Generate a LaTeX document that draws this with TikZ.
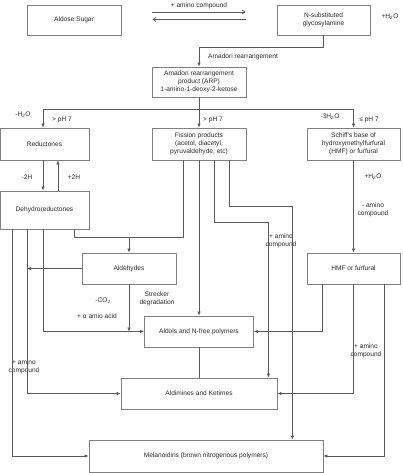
\documentclass[tikz,border=0pt]{standalone}
\usepackage{fontspec}
\setmainfont{Liberation Sans}
\usepackage{tikz}
\usetikzlibrary{arrows.meta}
\definecolor{lineGray}{HTML}{5A5A5A}
\definecolor{boxGray}{HTML}{808080}
\definecolor{textGray}{HTML}{2A2A2A}

\begin{document}
\begin{tikzpicture}[x=1pt,y=-1pt,
        box/.style={draw=boxGray,line width=0.8pt,inner sep=0pt,align=center,text=textGray,
            font=\fontsize{6.6}{8}\selectfont},
        lbl/.style={inner sep=0pt,align=center,text=textGray,font=\fontsize{6.6}{8}\selectfont},
        arr/.style={draw=lineGray,line width=0.7pt,-{Latex[length=4pt,width=3.6pt]}},
        wire/.style={draw=lineGray,line width=0.7pt},
        open/.style={draw=lineGray,line width=0.7pt,-{Straight Barb[length=3pt,width=4pt]}}]
        \useasboundingbox (0,0) rectangle (402,473);
        % boxes
        \node[box,minimum width=94pt,minimum height=30pt] (aldose) at (74,20) {Aldose Sugar};
        \node[box,minimum width=93pt,minimum height=30pt] (nsub) at (323.5,20) {N-substituted\\glycosylamine};
        \node[box,minimum width=94pt,minimum height=30pt] (arp) at (199,82) {Amadori rearrangement\\product (ARP)\\1-amino-1-deoxy-2-ketose};
        \node[box,minimum width=89pt,minimum height=32pt] (reduct) at (44.5,144) {Reductones};
        \node[box,minimum width=94pt,minimum height=32pt] (fission) at (199,144) {Fission products\\(acetol, diacetyl,\\pyruvaldehyde, etc)};
        \node[box,minimum width=93pt,minimum height=32pt] (schiff) at (353.5,144) {Schiff's base of\\hydroxymethylfurfural\\(HMF) or furfural};
        \node[box,minimum width=89pt,minimum height=38pt] (dehydro) at (44.5,210) {Dehydroreductones};
        \node[box,minimum width=94pt,minimum height=31pt] (aldehyd) at (129,268.5) {Aldehydes};
        \node[box,minimum width=93pt,minimum height=31pt] (hmf) at (353.5,268.5) {HMF or furfural};
        \node[box,minimum width=109pt,minimum height=31pt] (aldols) at (199,331.5) {Aldols and N-free polymers};
        \node[box,minimum width=156pt,minimum height=31pt] (aldim) at (199,393.5) {Aldimines and Ketimes};
        \node[box,minimum width=234pt,minimum height=32pt] (melan) at (206,456) {Melanoidins (brown nitrogenous polymers)};

        % labels
        \node[lbl] (water1) at (390,17) {+H\textsubscript{2}O};
        \node[lbl,anchor=west] (amadori) at (208,57) {Amadori rearrangement};
        \node[lbl] (mwater1) at (23,115) {-H\textsubscript{2}O};
        \node[lbl] (ph1) at (62,120) {> pH 7};
        \node[lbl] (ph2) at (213,120) {> pH 7};
        \node[lbl] (mwater3) at (330,117) {-3H\textsubscript{2}O};
        \node[lbl] (ph3) at (369,120) {≤ pH 7};
        \node[lbl] (minus2h) at (27,177) {-2H};
        \node[lbl] (plus2h) at (74,177) {+2H};
        \node[lbl] (water2) at (373,177) {+H\textsubscript{2}O};
        \node[lbl] (amino1) at (373,210) {- amino\\compound};
        \node[lbl] (amino2) at (281,241) {+ amino\\compound};
        \node[lbl] (decarb) at (103,301) {-CO\textsubscript{2}};
        \node[lbl] (strecker) at (157,299) {Strecker\\degradation};
        \node[lbl] (alpha) at (97,316) {+ α amio acid};
        \node[lbl] (amino3) at (366,351) {+ amino\\compound};
        \node[lbl] (amino4) at (24,367) {+ amino\\compound};

        % bends and feet
        \coordinate (split) at (199,109);
        \coordinate (junc) at (129,237);
        \coordinate (d1) at ([xshift=-32.5pt]dehydro.south);
        \coordinate (d2) at ([xshift=-17.5pt]dehydro.south);
        \coordinate (d3) at ([xshift=-1.5pt]dehydro.south);
        \coordinate (d4) at ([xshift=29.5pt]dehydro.south);
        \coordinate (f1) at ([xshift=-16pt]fission.south);
        \coordinate (f3) at ([xshift=15pt]fission.south);
        \coordinate (f4) at ([xshift=30.5pt]fission.south);
        \coordinate (f3b) at (214,222);
        \coordinate (f4b) at (229.5,206);
        \coordinate (aldimIn) at ([xshift=-9pt]aldim.north east);
        \coordinate (melanIn) at ([xshift=-31pt]melan.north east);

        % connectors
        \draw[open,shorten <=31pt,shorten >=31pt] ([yshift=8pt]aldose.east) -- node[lbl,above=3pt] (plusamino) {+ amino compound} ([yshift=8pt]nsub.west);
        \draw[open,shorten <=31pt,shorten >=31pt] ([yshift=0.5pt]nsub.west) -- ([yshift=0.5pt]aldose.east);
        \draw[arr] (nsub.south) -- ++(0,12) -| (arp.north);
        \draw[wire] (arp.south) -- (split);
        \draw[arr] (split) -| ([xshift=-1.5pt]reduct.north);
        \draw[arr] (split) -- (fission.north);
        \draw[arr] (split) -| (schiff.north);
        \draw[arr] ([xshift=-1.5pt]reduct.south) -- ([xshift=-1.5pt]dehydro.north);
        \draw[arr] ([xshift=13.5pt]dehydro.north) -- ([xshift=13.5pt]reduct.south);
        \draw[wire] (d4) |- (junc);
        \draw[wire] (f1) |- (junc);
        \draw[arr] (junc) -- (aldehyd.north);
        \draw[arr] (aldehyd.west) -- (d2 |- aldehyd.west);
        \draw[arr] (d3) |- (aldols.west);
        \draw[arr] (d2) |- (aldim.west);
        \draw[arr] (d1) |- (melan.west);
        \draw[arr] (aldehyd.south) -- (aldehyd.south |- aldols.west);
        \draw[arr] (fission.south) -- (aldols.north);
        \draw[arr] (f3) -- (f3b) -| (aldimIn);
        \draw[arr] (f4) -- (f4b) -| (melanIn);
        \draw[arr] (schiff.south) -- (hmf.north);
        \draw[arr] ([xshift=-31pt]hmf.south) |- (aldols.east);
        \draw[arr] (hmf.south) |- (aldim.east);
        \draw[arr] ([xshift=31pt]hmf.south) |- (melan.east);
        \draw[wire] (aldols.south) -- (aldim.north);
\end{tikzpicture}
\end{document}
